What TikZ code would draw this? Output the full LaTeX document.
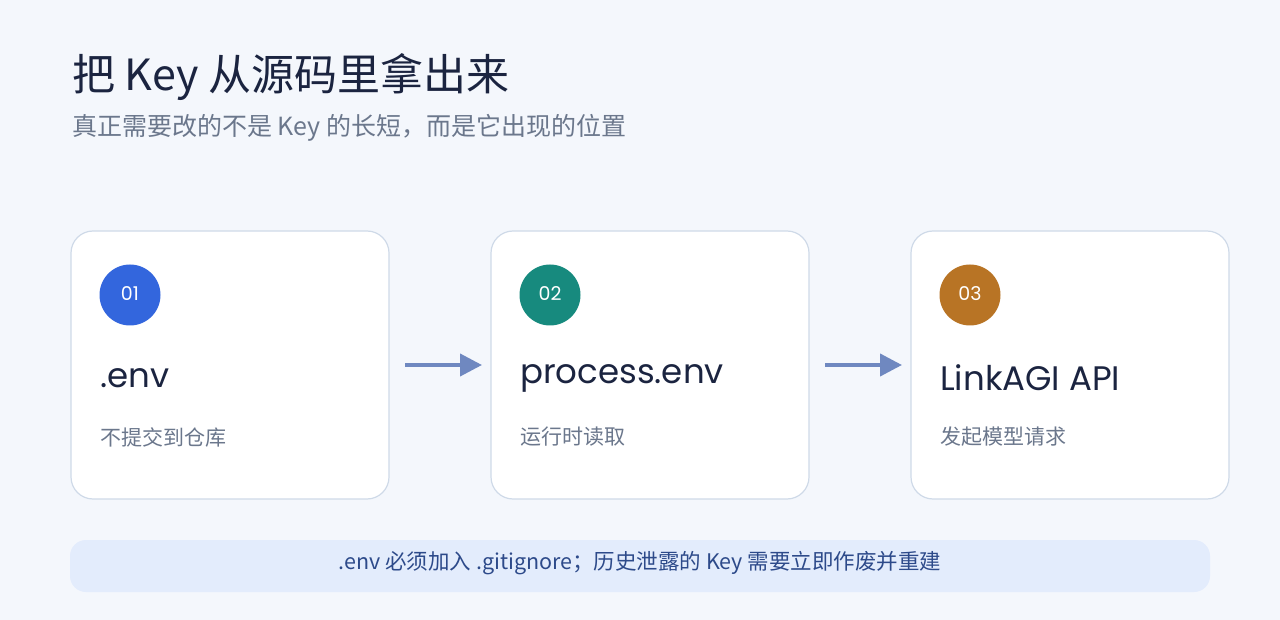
\documentclass[tikz,border=0pt]{standalone}
\usepackage{fontspec}
\setmainfont{Noto Sans CJK SC}
\newfontfamily\lat{Poppins}
\usetikzlibrary{arrows.meta}
\definecolor{bg}{HTML}{F4F7FC}
\definecolor{ink}{HTML}{1B2440}
\definecolor{sub}{HTML}{6B778C}
\definecolor{bd}{HTML}{CFDAE8}
\definecolor{arr}{HTML}{6F88C0}
\definecolor{barf}{HTML}{E3ECFC}
\definecolor{bart}{HTML}{2D4A8A}
\definecolor{cA}{HTML}{3366DD}
\definecolor{cB}{HTML}{178A7E}
\definecolor{cC}{HTML}{B87425}
\begin{document}
\begin{tikzpicture}[x=1pt,y=-1pt,
  card/.style={draw=bd,line width=1.2pt,fill=white,rounded corners=22pt},
  num/.style={circle,minimum size=61pt,inner sep=0pt,text=white,font=\fontsize{19}{19}\selectfont\lat},
  ttl/.style={anchor=west,inner sep=0pt,text=ink,font=\fontsize{34}{34}\selectfont\lat},
  dsc/.style={anchor=west,inner sep=0pt,text=sub,font=\fontsize{21}{21}\selectfont},
  ar/.style={draw=arr,line width=4pt,-{Triangle[length=22pt,width=22pt]}}]
\fill[bg] (0,0) rectangle (1280,620);
\useasboundingbox (0,0) rectangle (1280,620);
\node[anchor=west,inner sep=0pt,text=ink,font=\fontsize{43}{43}\selectfont] (t) at (72,77) {把 Key 从源码里拿出来};
\node[anchor=west,inner sep=0pt,text=sub,font=\fontsize{25}{25}\selectfont] (s) at (72,128) {真正需要改的不是 Key 的长短，而是它出现的位置};
\foreach \i/\x/\c/\n/\a/\b in {1/71/cA/01/.env/不提交到仓库,2/491/cB/02/process.env/运行时读取,3/911/cC/03/LinkAGI API/发起模型请求}{
  \draw[card] (\x,231) rectangle (\x+318,499);
  \node[num,fill=\c] (n\i) at (\x+59,295) {\raisebox{3pt}{\n}};
  \node[ttl] (h\i) at (\x+29,378) {\a};
  \node[dsc] (d\i) at (\x+29,437) {\b};
}
\coordinate (a1) at (405,365); \coordinate (b1) at (482,365);
\coordinate (a2) at (825,365); \coordinate (b2) at (902,365);
\draw[ar] (a1) -- (b1);
\draw[ar] (a2) -- (b2);
\fill[barf,rounded corners=16pt] (70,540) rectangle (1210,592);
\node[text=bart,font=\fontsize{21.5}{21.5}\selectfont] (bar) at (640,563) {.env 必须加入 .gitignore；历史泄露的 Key 需要立即作废并重建};
\end{tikzpicture}
\end{document}
